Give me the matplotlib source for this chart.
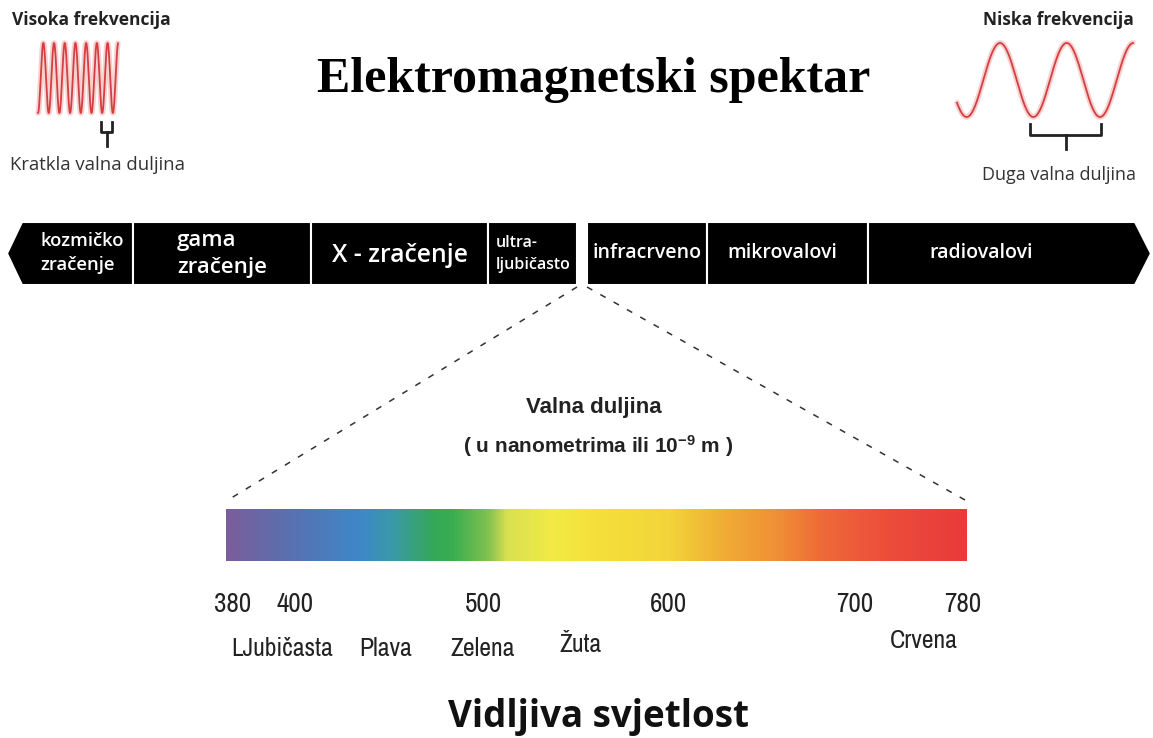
import numpy as np
import matplotlib.pyplot as plt
from matplotlib.patches import Polygon
from matplotlib.colors import LinearSegmentedColormap
from matplotlib import font_manager
from matplotlib.font_manager import FontProperties

plt.rcParams['mathtext.fontset'] = 'custom'
plt.rcParams['mathtext.bf'] = 'Liberation Sans:bold'
plt.rcParams['mathtext.rm'] = 'Liberation Sans:bold'
plt.rcParams['mathtext.default'] = 'bf'

# data
bands = ['kozmičko\nzračenje', 'gama\nzračenje', 'X - zračenje', 'ultra-\nljubičasto',
         'infracrveno', 'mikrovalovi', 'radiovalovi']
wavelengths = [380, 400, 500, 600, 700, 780]
colour_names = ['LJubičasta', 'Plava', 'Zelena', 'Žuta', 'Crvena']
colour_nm = [396, 448, 500, 553, 751]

# layout (pixels)
band_edges = [22, 133, 311, 488, 577, 587, 707, 868, 1135]
band_top, band_bot = 222, 285
bar_x0, bar_x1, bar_y0, bar_y1 = 226, 967, 509, 561
# nm -> px as placed in the picture (not linear)
scale_nm = [380, 400, 500, 600, 700, 780]
scale_px = [233, 295, 483, 668, 855, 963]

def nm2px(v):
    return np.interp(v, scale_nm, scale_px)

# look for a narrow sans font for the numbers
narrow_fp = FontProperties(family='Liberation Sans')
cands = []
for f in font_manager.fontManager.ttflist:
    fn = f.fname.lower()
    if 'mono' in fn or 'serif' in fn or 'oblique' in fn or 'italic' in fn:
        continue
    if ('narrow' in fn or 'condensed' in fn) and f.weight in (400, 'normal', 'regular', 'book'):
        cands.append(f)
cands.sort(key=lambda f: (0 if 'narrow' in f.fname.lower() else 1))
if cands:
    narrow_fp = FontProperties(fname=cands[0].fname)

fig = plt.figure(figsize=(11.53, 7.38), dpi=100)
ax = fig.add_axes([0, 0, 1, 1])
ax.set_xlim(0, 1153)
ax.set_ylim(738, 0)
ax.axis('off')

# waves
def wave(x0, x1, xpeak, period, yc, amp):
    x = np.linspace(x0, x1, 600)
    y = yc - amp * np.cos(2 * np.pi * (x - xpeak) / period)
    ax.plot(x, y, color='#f2b3b3', lw=4, alpha=0.6, solid_capstyle='round')
    ax.plot(x, y, color='#d53f3f', lw=1.3)

wave(38, 118, 38 + 10.7 / 2, 10.7, 78, 35)
wave(957, 1133, 1000, 66.7, 80, 37)

def bracket(xa, xb, ytop, ymid, ybot):
    xm = (xa + xb) / 2
    ax.plot([xa, xa, xb, xb], [ytop, ymid, ymid, ytop], color='#222', lw=2)
    ax.plot([xm, xm], [ymid, ybot], color='#222', lw=2)

bracket(101, 112, 122, 132, 146)
bracket(1030, 1101, 124, 135, 149)

ax.text(12, 20, 'Visoka frekvencija', fontsize=12.5, fontweight='bold', family='Open Sans',
        color='#222', va='center')
ax.text(10, 165, 'Kratkla valna duljina', fontsize=13.3, family='Open Sans', color='#333', va='center')
ax.text(983, 20, 'Niska frekvencija', fontsize=12.5, fontweight='bold', family='Open Sans',
        color='#222', va='center')
ax.text(982, 175, 'Duga valna duljina', fontsize=13, family='Open Sans', color='#333', va='center')

ax.text(594, 80, 'Elektromagnetski spektar', fontsize=36, fontweight='bold',
        family='Liberation Serif', ha='center', va='center', color='black')

# band bar
for i in range(len(band_edges) - 1):
    a, b = band_edges[i], band_edges[i + 1]
    if i == 4:
        continue
    pts = [(a, band_top), (b, band_top), (b, band_bot), (a, band_bot)]
    if i == 0:
        pts = [(a, band_top), (b, band_top), (b, band_bot), (a, band_bot), (7, 253.5)]
    if i == len(band_edges) - 2:
        pts = [(a, band_top), (b, band_top), (1151, 253.5), (b, band_bot), (a, band_bot)]
    ax.add_patch(Polygon(pts, closed=True, facecolor='black', edgecolor='white', lw=1.5))

label_pos = [(40, 253, 'left', 13.3, 1.45), (177, 254, 'left', 16, 1.35),
             (400, 256, 'center', 17.8, 1.2), (496, 254, 'left', 11.5, 1.55),
             (647, 253, 'center', 14, 1.2), (782, 253, 'center', 14, 1.2),
             (981, 253, 'center', 14, 1.2)]
for lab, (x, y, ha, fs, lsp) in zip(bands, label_pos):
    ax.text(x, y, lab, color='white', fontsize=fs, fontweight='semibold', family='Open Sans',
            ha=ha, va='center', linespacing=lsp)

# dashed zoom lines
ax.plot([577, 228], [287, 500], ls=(0, (4, 6)), color='#333', lw=1.1)
ax.plot([587, 965], [287, 500], ls=(0, (4, 6)), color='#333', lw=1.1)

ax.text(594, 408, 'Valna duljina', fontsize=16, fontweight='bold', family='Liberation Sans',
        ha='center', va='center', color='#222')
ax.text(598, 446, r'( u nanometrima ili 10$^{-9}$ m )', fontsize=15, fontweight='bold',
        family='Liberation Sans', ha='center', va='center', color='#222')

# visible spectrum
stops = [(0.0, '#7a5e9a'), (0.082, '#5a70b0'), (0.181, '#3d88c8'), (0.225, '#3a9aa5'),
         (0.279, '#35a858'), (0.306, '#3aae50'), (0.352, '#80c050'), (0.379, '#d8e050'),
         (0.441, '#f3ea45'), (0.5, '#f5e03a'), (0.599, '#f3d43a'), (0.671, '#f0ae35'),
         (0.744, '#f09035'), (0.806, '#ee6a38'), (0.896, '#ec4d3a'), (1.0, '#e93a3c')]
cmap = LinearSegmentedColormap.from_list('spec', stops)
grad = np.linspace(0, 1, 800)[None, :]
ax.imshow(grad, cmap=cmap, aspect='auto', extent=[bar_x0, bar_x1, bar_y1, bar_y0],
          interpolation='bilinear')
ax.set_xlim(0, 1153)
ax.set_ylim(738, 0)

for w in wavelengths:
    ax.text(nm2px(w), 605, str(w), fontproperties=narrow_fp, fontsize=19.5, ha='center',
            va='center', color='#222')
name_y = [648, 648, 648, 644, 641]
for n, w, y in zip(colour_names, colour_nm, name_y):
    ax.text(nm2px(w), y, n, fontproperties=narrow_fp, fontsize=18.5, ha='center', va='center',
            color='#222')

ax.text(598, 717, 'Vidljiva svjetlost', fontsize=26.5, fontweight='bold', family='Open Sans',
        ha='center', va='center', color='#111')

fig.savefig('out.png', dpi=100)
